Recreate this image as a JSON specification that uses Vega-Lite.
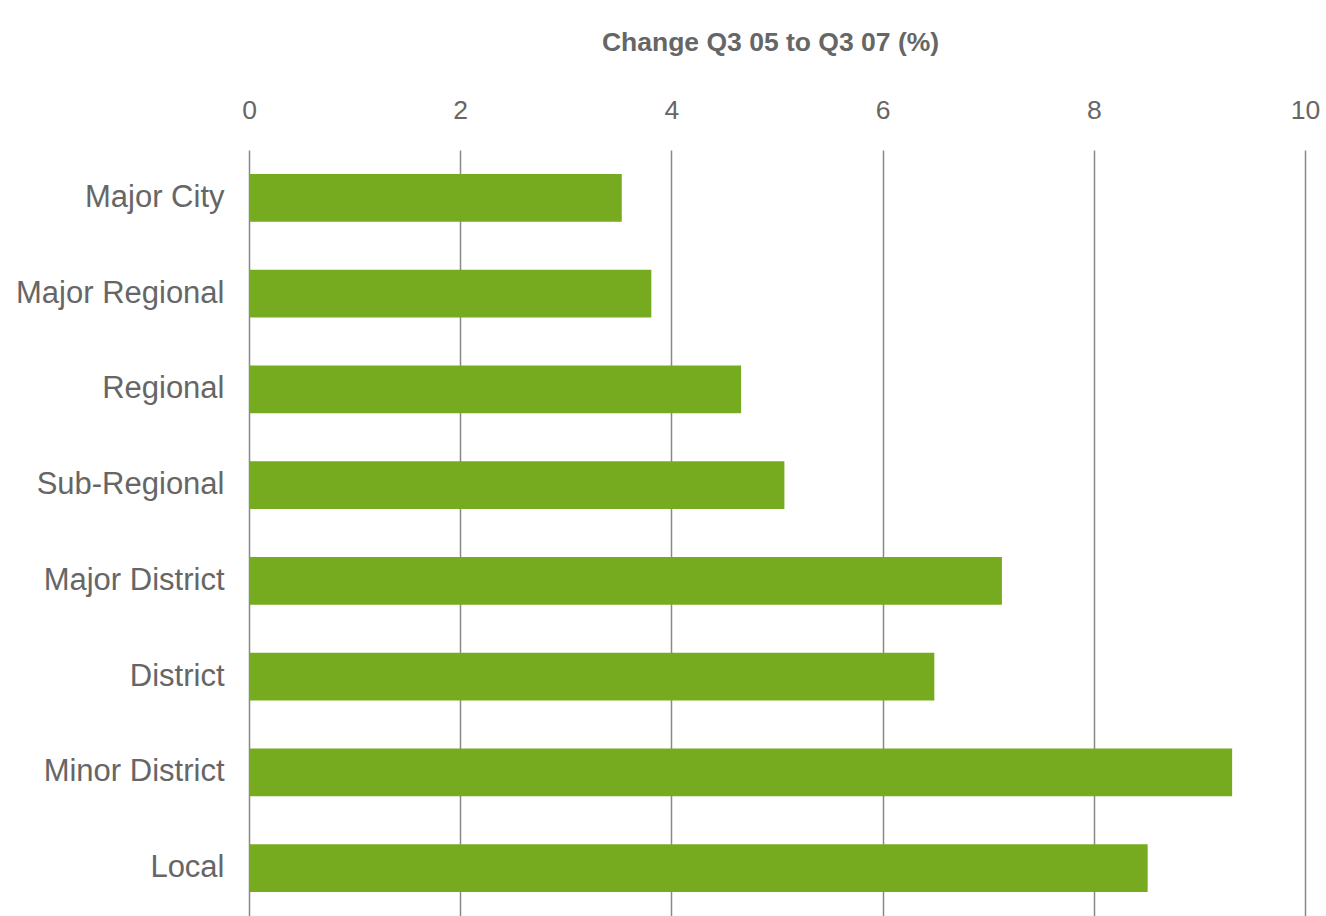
{
  "$schema": "https://vega.github.io/schema/vega-lite/v6.json",
  "autosize": "none",
  "width": 1056,
  "height": 766,
  "padding": {"left": 249, "top": 150, "right": 21, "bottom": 0},
  "background": "white",
  "config": {
    "view": {"stroke": null},
    "font": "Liberation Sans"
  },
  "data": {
    "values": [
      {"type": "Major City", "change": 3.53},
      {"type": "Major Regional", "change": 3.81},
      {"type": "Regional", "change": 4.66},
      {"type": "Sub-Regional", "change": 5.07},
      {"type": "Major District", "change": 7.13},
      {"type": "District", "change": 6.49},
      {"type": "Minor District", "change": 9.31},
      {"type": "Local", "change": 8.51}
    ]
  },
  "mark": {"type": "bar", "color": "#77ab1f"},
  "encoding": {
    "y": {
      "field": "type",
      "type": "nominal",
      "sort": null,
      "scale": {"paddingInner": 0.5, "paddingOuter": 0.25},
      "axis": {
        "title": null,
        "domain": false,
        "ticks": false,
        "labelPadding": 25,
        "labelLimit": 300,
        "labelFontSize": 31,
        "labelColor": "#666666",
        "labelFont": "Liberation Sans"
      }
    },
    "x": {
      "field": "change",
      "type": "quantitative",
      "scale": {"domain": [0, 10], "nice": false},
      "axis": {
        "orient": "top",
        "values": [0, 2, 4, 6, 8, 10],
        "domain": false,
        "ticks": false,
        "grid": true,
        "gridColor": "#888888",
        "gridWidth": 1.5,
        "labelFlush": false,
        "labelAlign": "center",
        "labelPadding": 26,
        "labelFontSize": 26.5,
        "labelColor": "#666666",
        "labelFont": "Liberation Sans",
        "title": "Change Q3 05 to Q3 07 (%)",
        "titleFont": "Liberation Sans",
        "titleFontSize": 26.5,
        "titleFontWeight": "bold",
        "titleColor": "#666666",
        "titleBaseline": "alphabetic",
        "titleAlign": "center",
        "titleAnchor": "middle",
        "titleX": 521,
        "titleY": -100
      }
    }
  }
}
